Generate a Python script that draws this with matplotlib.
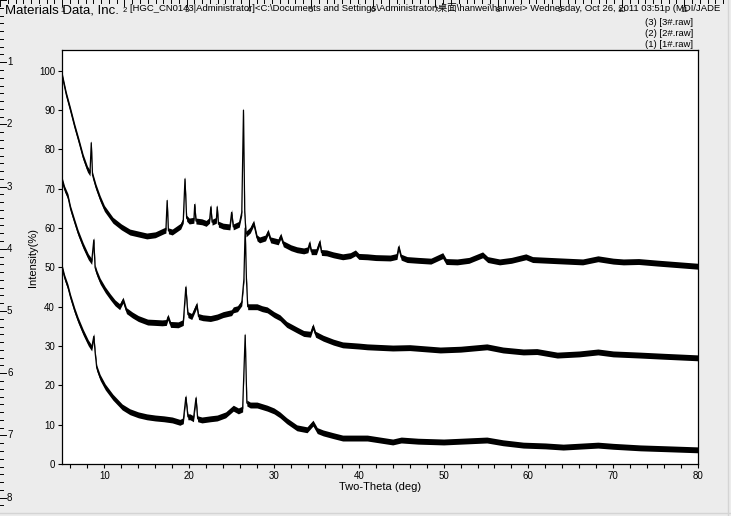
"""
Recreates a MDI/JADE XRD screenshot: three stacked diffraction patterns
(1#, 2#, 3#) with the JADE header and page rulers around the plot.
"""

import matplotlib

matplotlib.use("Agg")
import matplotlib.pyplot as plt
import numpy as np

# ---- data (two-theta in deg, intensity in %) ----
# (3) 3#.raw - top pattern
s3_theta = [5.0, 5.5, 6.0, 6.5, 7.0, 7.5, 8.0, 8.3, 8.45, 8.6, 9.0, 9.5, 10.0,
            11.0, 12.0, 13.0, 14.0, 15.0, 16.0, 17.0, 17.25, 17.4, 17.55, 18.0,
            19.0, 19.3, 19.5, 19.7, 20.0, 20.55, 20.65, 20.8, 21.5, 22.0, 22.4,
            22.55, 22.7, 23.2, 23.3, 23.45, 24.0, 24.8, 25.0, 25.2, 25.9, 26.2,
            26.4, 26.55, 26.7, 27.2, 27.6, 28.0, 28.3, 29.0, 29.3, 29.6, 30.5,
            30.8, 31.1, 32.0, 32.7, 33.5, 34.0, 34.2, 34.4, 35.0, 35.4, 35.6,
            36.2, 37.0, 38.1, 39.0, 39.6, 40.0, 41.0, 42.0, 43.7, 44.5, 44.7,
            45.0, 45.7, 47.0, 48.5, 49.9, 50.3, 51.6, 53.0, 54.6, 55.2, 56.6,
            58.0, 59.7, 60.5, 63.4, 66.4, 68.2, 70.0, 71.2, 73.0, 75.2, 77.0,
            80.0]
s3_int = [99.0, 94.0, 90.0, 85.8, 82.0, 78.0, 75.0, 74.0, 81.7, 73.5, 70.5,
          67.5, 65.0, 62.0, 60.3, 59.0, 58.5, 58.0, 58.3, 59.3, 59.5, 67.0,
          59.3, 59.0, 60.5, 62.0, 72.5, 62.5, 61.8, 62.0, 66.0, 61.8, 61.6,
          61.2, 62.0, 65.4, 61.5, 62.0, 65.4, 61.0, 60.5, 60.3, 64.0, 60.3,
          61.0, 64.0, 90.0, 64.0, 58.5, 59.5, 61.3, 57.5, 57.0, 57.5, 59.0,
          57.0, 56.5, 58.0, 56.0, 55.0, 54.5, 54.2, 54.5, 56.2, 54.0, 54.0,
          56.5, 53.8, 53.7, 53.2, 52.7, 53.0, 53.7, 52.8, 52.7, 52.5, 52.4,
          52.8, 55.2, 52.6, 52.0, 51.8, 51.6, 53.0, 51.5, 51.4, 51.8, 53.2,
          52.0, 51.4, 51.8, 52.7, 52.0, 51.7, 51.4, 52.2, 51.6, 51.4, 51.5,
          51.1, 50.8, 50.3]

# (2) 2#.raw - middle pattern
s2_theta = [5.0, 5.3, 5.7, 6.0, 6.5, 6.9, 7.5, 8.1, 8.5, 8.75, 8.9, 9.1, 9.5,
            10.1, 10.7, 11.25, 11.8, 12.2, 12.6, 13.3, 14.0, 15.1, 16.0, 16.8,
            17.3, 17.5, 17.8, 18.7, 19.3, 19.6, 19.85, 20.3, 20.9, 21.1, 21.6,
            22.5, 23.3, 24.0, 25.0, 25.2, 25.7, 26.2, 26.45, 26.6, 26.75, 26.9,
            27.2, 28.0, 28.6, 29.2, 30.0, 30.7, 31.5, 32.7, 33.5, 34.3, 34.6,
            34.9, 35.8, 37.0, 38.1, 40.0, 41.0, 44.0, 46.0, 49.6, 52.0, 55.1,
            57.0, 59.4, 61.0, 63.4, 66.0, 68.2, 70.0, 73.2, 76.0, 80.0]
s2_int = [72.3, 70.0, 68.0, 65.0, 61.5, 58.8, 55.5, 52.7, 51.5, 57.0, 50.0,
          48.6, 46.5, 44.3, 42.5, 41.0, 40.0, 41.7, 39.0, 37.9, 37.0, 36.1,
          36.0, 35.9, 36.0, 37.4, 35.5, 35.4, 36.0, 45.0, 38.0, 37.5, 40.5,
          37.5, 37.2, 37.0, 37.4, 38.0, 38.5, 39.2, 39.5, 41.0, 47.0, 60.0,
          47.0, 40.0, 40.0, 40.0, 39.5, 39.2, 38.0, 37.2, 35.5, 34.1, 33.2,
          33.0, 35.0, 33.0, 32.0, 31.0, 30.3, 30.0, 29.8, 29.5, 29.6, 29.0,
          29.2, 29.8, 29.0, 28.5, 28.6, 27.7, 28.0, 28.5, 28.0, 27.7, 27.4,
          27.0]

# (1) 1#.raw - bottom pattern
s1_theta = [5.0, 5.3, 5.7, 6.0, 6.5, 6.9, 7.5, 8.1, 8.5, 8.75, 8.9, 9.1, 9.5,
            10.1, 11.0, 12.1, 13.0, 14.0, 15.0, 16.0, 17.0, 18.0, 18.9, 19.3,
            19.6, 19.85, 20.1, 20.5, 20.8, 21.0, 21.5, 22.5, 23.3, 24.3, 25.2,
            25.8, 26.3, 26.6, 26.8, 27.2, 28.0, 29.2, 30.0, 30.7, 31.5, 32.7,
            33.9, 34.6, 35.1, 35.8, 37.0, 38.1, 41.0, 44.0, 45.0, 47.0, 50.0,
            55.1, 57.0, 59.4, 62.0, 64.1, 68.2, 70.0, 73.2, 76.0, 80.0]
s1_int = [50.1, 47.5, 45.0, 42.5, 39.0, 36.6, 33.5, 30.8, 29.5, 32.5, 28.5,
          24.4, 22.0, 19.6, 17.0, 14.5, 13.3, 12.5, 12.0, 11.7, 11.5, 11.2,
          10.6, 11.0, 17.0, 12.0, 12.0, 11.5, 16.8, 11.5, 11.2, 11.5, 11.7,
          12.5, 14.2, 13.5, 14.0, 32.8, 15.5, 15.0, 15.0, 14.2, 13.5, 12.5,
          11.0, 9.2, 8.7, 10.4, 8.5, 7.9, 7.2, 6.6, 6.6, 5.6, 6.1, 5.8, 5.6,
          6.1, 5.4, 4.8, 4.6, 4.3, 4.8, 4.5, 4.1, 3.9, 3.6]

legend_labels = ["(3) [3#.raw]", "(2) [2#.raw]", "(1) [1#.raw]"]
header_left = "Materials Data, Inc."
header_right = ("[HGC_CN0143|Administrator]<C:\\Documents and Settings\\"
                "Administrator\\桌面\\hanwei\\hanwei> Wednesday, Oct 26, 2011 "
                "03:51p (MDI/JADE")

W, H = 731, 516
BG = "#ECECEC"
FONT = ["Liberation Sans", "Noto Sans CJK SC", "DejaVu Sans"]


def draw_rulers(fig):
    # full-figure overlay in pixel coordinates for the page rulers
    ov = fig.add_axes([0, 0, 1, 1], zorder=-1)
    ov.set_xlim(0, W)
    ov.set_ylim(H, 0)
    ov.axis("off")
    unit = 62.2
    step = unit / 8
    for i in range(int(W / step) + 1):
        x = i * step
        ln = 6 if i % 8 == 0 else 3
        ov.plot([x, x], [0, ln], color="black", lw=0.7)
        if i % 8 == 0 and i > 0:
            ov.text(x, 7, str(i // 8), fontsize=5.5, family=FONT,
                    ha="center", va="top")
    for i in range(int(H / step) + 1):
        y = i * step
        ln = 6 if i % 8 == 0 else 3
        ov.plot([0, ln], [y, y], color="black", lw=0.7)
        if i % 8 == 0 and i > 0:
            ov.text(7, y, str(i // 8), fontsize=7, family=FONT,
                    ha="left", va="center")
    # window edges
    ov.plot([728, 728], [0, H], color="#d4d4d4", lw=1)
    ov.plot([0, W], [513, 513], color="#d4d4d4", lw=1)

    ov.text(5, 13.5, header_left, fontsize=9.5, family=FONT,
            ha="left", va="baseline")
    ov.text(130, 11, header_right, fontsize=6.8, family=FONT,
            ha="left", va="baseline")
    for k, lab in enumerate(legend_labels):
        ov.text(693, 22.5 + 11 * k, lab, fontsize=6.8, family=FONT,
                ha="right", va="center")


def main():
    fig = plt.figure(figsize=(W / 100, H / 100), dpi=100, facecolor=BG)
    draw_rulers(fig)

    ax = fig.add_axes([62 / W, 1 - 464 / H, (698 - 62) / W, (464 - 50) / H])
    ax.set_facecolor("white")

    for th, inten in [(s1_theta, s1_int), (s2_theta, s2_int), (s3_theta, s3_int)]:
        th = np.asarray(th)
        inten = np.asarray(inten)
        # noise band of the raw scan, then the trace itself
        ax.fill_between(th, inten - 0.75, inten + 0.75, color="black", lw=0)
        ax.plot(th, inten, color="black", lw=0.9)

    ax.set_xlim(5, 80)
    ax.set_ylim(0, 105.3)
    ax.set_xticks(np.arange(10, 81, 10))
    ax.set_xticks(np.arange(6, 81, 2), minor=True)
    ax.set_yticks(np.arange(0, 101, 10))
    ax.tick_params(which="both", direction="out", length=3, width=0.8,
                   labelsize=7, pad=2)
    for lab in ax.get_xticklabels() + ax.get_yticklabels():
        lab.set_family(FONT)
    for sp in ax.spines.values():
        sp.set_linewidth(0.9)

    ax.set_xlabel("Two-Theta (deg)", fontsize=8, family=FONT, labelpad=1)
    ax.set_ylabel("Intensity(%)", fontsize=8, family=FONT, labelpad=1)

    fig.savefig("out.png", dpi=100, facecolor=BG)
    plt.close(fig)


if __name__ == "__main__":
    main()
